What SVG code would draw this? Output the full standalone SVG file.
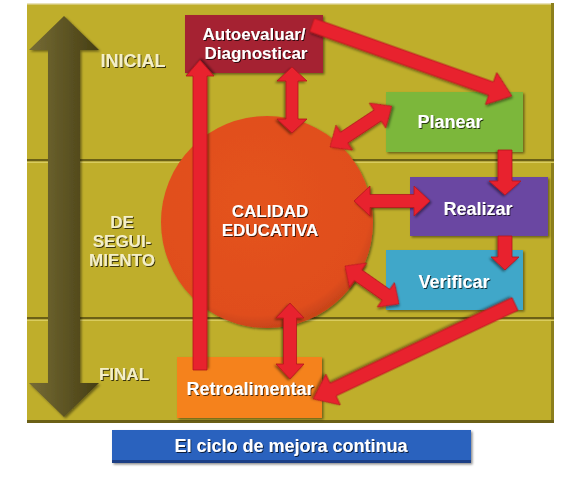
<svg xmlns="http://www.w3.org/2000/svg" width="577" height="480" viewBox="0 0 577 480">
<defs>
<filter id="sh" x="-20%" y="-20%" width="140%" height="140%">
<feDropShadow dx="1.5" dy="1.5" stdDeviation="1.2" flood-color="#000" flood-opacity="0.45"/>
</filter>
<filter id="tsh" x="-10%" y="-30%" width="120%" height="160%">
<feDropShadow dx="1" dy="1" stdDeviation="0.6" flood-color="#000" flood-opacity="0.7"/>
</filter>
<linearGradient id="darr" x1="0" y1="0" x2="1" y2="0">
<stop offset="0" stop-color="#766C35"/>
<stop offset="0.5" stop-color="#5E5524"/>
<stop offset="1" stop-color="#463E14"/>
</linearGradient>
<radialGradient id="circ" cx="0.45" cy="0.4" r="0.6">
<stop offset="0" stop-color="#E4531F"/>
<stop offset="0.9" stop-color="#E04E1D"/>
<stop offset="1" stop-color="#C94419"/>
</radialGradient>
</defs>
<style>
.lbl{font-family:"Liberation Sans",Arial,sans-serif;font-weight:bold;font-size:18px;fill:#fff;text-anchor:middle;filter:url(#tsh)}
.ml{font-size:17px}
.side{fill:#F4EFC8}
.box{filter:url(#sh)}
.arr{fill:#E8202E;stroke:#B51520;stroke-width:0.8;filter:url(#sh)}
.band{fill:#BFAE2B}
.dk{fill:#6B6016}
.lt{fill:#D9CC5E}
</style>

<g id="background">
<rect x="27" y="3" width="527" height="420" class="band"/>
<rect x="27" y="3" width="527" height="1.5" fill="#E9E2B8"/>
<rect x="551" y="3" width="3" height="420" fill="#8C7F1C"/>
<rect x="27" y="420" width="527" height="3" fill="#6B6016"/>
<rect x="27" y="159" width="527" height="2.5" class="dk"/>
<rect x="27" y="161.5" width="527" height="1.5" class="lt"/>
<rect x="27" y="317" width="527" height="2.5" class="dk"/>
<rect x="27" y="319.5" width="527" height="1.5" class="lt"/>
</g>

<g id="phase-arrow">
<polygon points="64,16 99,50 80,50 80,383 99,383 64,417 29,383 48,383 48,50 29,50" fill="url(#darr)" filter="url(#sh)"/>
</g>

<g id="label-inicial"><text class="lbl side" x="133" y="67">INICIAL</text></g>
<g id="label-seguimiento">
<text class="lbl side ml" x="122" y="228">DE</text>
<text class="lbl side ml" x="122" y="247">SEGUI-</text>
<text class="lbl side ml" x="122" y="266">MIENTO</text>
</g>
<g id="label-final"><text class="lbl side ml" x="124" y="380">FINAL</text></g>

<g id="calidad">
<circle cx="267" cy="222" r="106" fill="url(#circ)" filter="url(#sh)"/>
<text class="lbl ml" x="270" y="217">CALIDAD</text>
<text class="lbl ml" x="270" y="236">EDUCATIVA</text>
</g>

<g id="autoevaluar">
<rect class="box" x="185" y="15" width="138" height="58" fill="#A52331"/>
<text class="lbl ml" x="254" y="40">Autoevaluar/</text>
<text class="lbl ml" x="256" y="59">Diagnosticar</text>
</g>

<g id="planear">
<rect class="box" x="386" y="92" width="137" height="60" fill="#7BB73B"/>
<text class="lbl" x="450" y="128">Planear</text>
</g>

<g id="realizar">
<rect class="box" x="410" y="177" width="138" height="59" fill="#6A47A2"/>
<text class="lbl" x="478" y="215">Realizar</text>
</g>

<g id="verificar">
<rect class="box" x="386" y="250" width="137" height="60" fill="#3FA7C9"/>
<text class="lbl" x="454" y="288">Verificar</text>
</g>

<g id="retroalimentar">
<rect class="box" x="177" y="357" width="145" height="61" fill="#F5821F"/>
<text class="lbl" x="250" y="395">Retroalimentar</text>
</g>

<g id="connectors">
<polygon class="arr" transform="translate(200,370) rotate(-90)" points="0,-7 294,-7 294,-14 310,0 294,14 294,7 0,7"/>
<polygon class="arr" transform="translate(312,25) rotate(19.54)" points="0,-7 190,-7 190,-17 212,0 190,17 190,7 0,7"/>
<polygon class="arr" transform="translate(292,67) rotate(90)" points="14,-6 52,-6 52,-15 66,0 52,15 52,6 14,6 14,15 0,0 14,-15"/>
<polygon class="arr" transform="translate(330,147) rotate(-33.5)" points="17,-6.5 57,-6.5 57,-15 74,0 57,15 57,6.5 17,6.5 17,15 0,0 17,-15"/>
<polygon class="arr" transform="translate(505,150) rotate(90)" points="0,-7 31,-7 31,-16 45,0 31,16 31,7 0,7"/>
<polygon class="arr" transform="translate(354,201)" points="16,-6.5 60,-6.5 60,-15 76,0 60,15 60,6.5 16,6.5 16,15 0,0 16,-15"/>
<polygon class="arr" transform="translate(505,236) rotate(90)" points="0,-7 21,-7 21,-14 34,0 21,14 21,7 0,7"/>
<polygon class="arr" transform="translate(345,266) rotate(35.1)" points="16,-6.5 50,-6.5 50,-15 66,0 50,15 50,6.5 16,6.5 16,15 0,0 16,-15"/>
<polygon class="arr" transform="translate(515,304) rotate(154.8)" points="0,-7 201,-7 201,-17 223,0 201,17 201,7 0,7"/>
<polygon class="arr" transform="translate(290,303) rotate(90)" points="15,-6.5 61,-6.5 61,-14 76,0 61,14 61,6.5 15,6.5 15,14 0,0 15,-14"/>
</g>

<g id="title">
<rect class="box" x="112" y="430" width="359" height="33" fill="#2C62BE"/>
<rect x="112" y="460" width="359" height="3" fill="#1C3F85"/>
<text class="lbl" x="291" y="452">El ciclo de mejora continua</text>
</g>
</svg>
